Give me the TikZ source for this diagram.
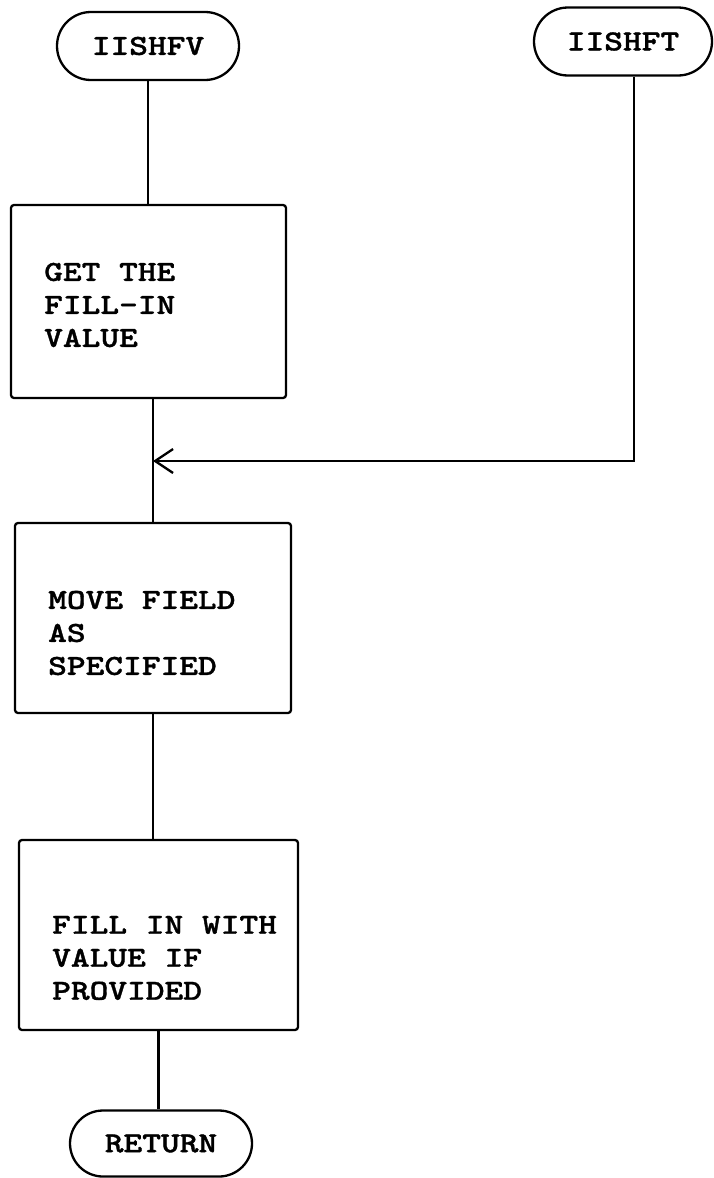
\documentclass[tikz,border=0pt]{standalone}
\usepackage{fontspec}
\newfontfamily\typew[FakeStretch=1.23,FakeBold=1.2]{lmmonolt10-bold.otf}
\usetikzlibrary{shapes.misc,arrows.meta}
\begin{document}
\begin{tikzpicture}[x=1pt,y=1pt,
  every node/.style={font=\typew\fontsize{29}{33}\selectfont},
  term/.style={draw, line width=2.3pt, rounded rectangle, minimum height=68pt, inner sep=0pt},
  procbox/.style={draw, line width=2.3pt, rounded corners=3pt, inner sep=0pt},
  boxtext/.style={align=left, anchor=west, inner sep=0pt},
  conn/.style={line width=2.3pt}
]
\useasboundingbox (0,0) rectangle (714,-1178);
\fill[white] (0,0) rectangle (714,-1178);

\node[term, minimum width=182pt] (v) at (148,-46) {IISHFV};
\node[term, minimum width=178pt] (t) at (623,-41.5) {IISHFT};

\node[procbox, minimum width=275pt, minimum height=193pt] (b1) at (148.5,-301.5) {};
\node[boxtext] (b1t) at (44,-305) {GET THE\\FILL-IN\\VALUE};

\node[procbox, minimum width=276pt, minimum height=190pt] (b2) at (153,-618) {};
\node[boxtext] (b2t) at (48,-633) {MOVE FIELD\\AS\\SPECIFIED};

\node[procbox, minimum width=279pt, minimum height=190pt] (b3) at (158.5,-935) {};
\node[boxtext] (b3t) at (52,-958) {FILL IN WITH\\VALUE IF\\PROVIDED};

\node[term, minimum width=182pt, minimum height=66pt] (r) at (161,-1143.5) {RETURN};

\coordinate (m) at (153,-461);

\draw[conn] (v.south) -- (v.south |- b1.north);
\draw[conn] (b1.south -| b2.north) -- (b2.north);
\draw[conn,-{Straight Barb[length=18pt,width=24pt]}] ([xshift=11pt]t.south) |- (m);
\draw[conn] (b2.south) -- (b2.south |- b3.north);
\draw[conn] (b3.south) -- (b3.south |- r.north);
\end{tikzpicture}
\end{document}
